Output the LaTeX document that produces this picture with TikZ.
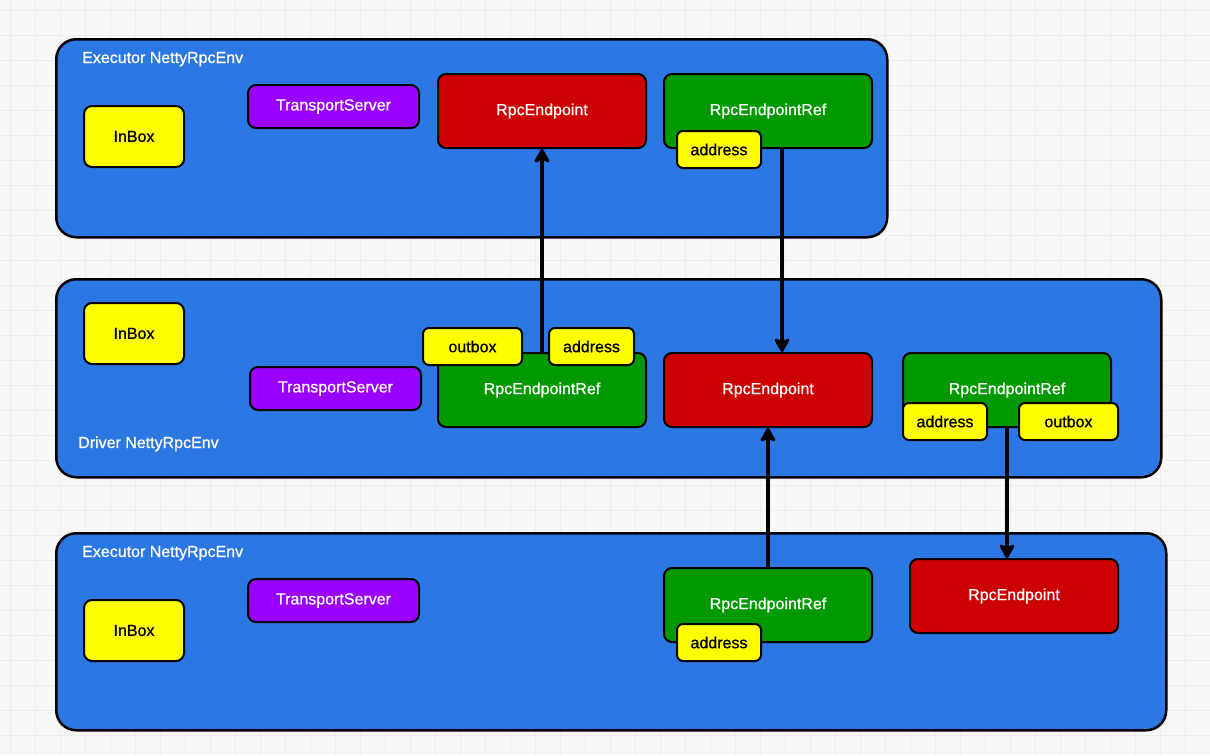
\documentclass[tikz,border=0pt]{standalone}
\usepackage{fontspec}
\setmainfont{Liberation Sans}[FakeBold=0.8]
\usepackage{xcolor}
\usetikzlibrary{arrows.meta,positioning}

\definecolor{envblue}{HTML}{2B78E4}
\definecolor{refgreen}{HTML}{009900}
\definecolor{eptred}{HTML}{CC0000}
\definecolor{srvpurple}{HTML}{9900FF}
\definecolor{tagyellow}{HTML}{FFFF00}
\definecolor{paper}{HTML}{F8F8F8}
\definecolor{gridgray}{HTML}{ECECEC}

\begin{document}
\begin{tikzpicture}[
  x=1pt, y=-1pt,
  every node/.style={font=\fontsize{16}{19}\selectfont, inner sep=0pt},
  env/.style={draw, line width=2.5pt, rounded corners=20pt, fill=envblue,
              anchor=north west},
  envlabel/.style={text=white, anchor=base west},
  box/.style={draw, line width=2pt, rounded corners=8pt, anchor=north west,
              align=center},
  inbox/.style={box, fill=tagyellow, minimum width=100pt, minimum height=61pt},
  server/.style={box, fill=srvpurple, text=white, minimum width=171pt,
                 minimum height=43pt},
  endpoint/.style={box, fill=eptred, text=white, minimum width=208pt,
                   minimum height=74pt},
  ref/.style={box, fill=refgreen, text=white, minimum width=208pt,
              minimum height=74pt},
  tag/.style={box, fill=tagyellow, rounded corners=6pt, minimum height=37pt},
  arrow/.style={-{Stealth[length=17pt,width=19pt,inset=5pt,round]},
                line width=4pt}
]
\useasboundingbox (0,0) rectangle (1210,755);
\fill[paper] (0,0) rectangle (1210,755);
\foreach \g in {0,...,48}
  \draw[gridgray, line width=1pt] ({10+25*\g},0) -- ({10+25*\g},755);
\foreach \g in {0,...,29}
  \draw[gridgray, line width=1pt] (0,{10+25*\g}) -- (1210,{10+25*\g});

% executor (top)
\node[env, minimum width=831pt, minimum height=198pt] (topenv) at (55,38) {};
\node[envlabel] (toplbl) at (82,63) {Executor NettyRpcEnv};
\node[inbox] (tin) at (83,105) {InBox};
\node[server] (tsrv) at (247,84) {TransportServer};
\node[endpoint] (tend) at (437,73) {RpcEndpoint};
\node[ref] (tref) at (663,73) {RpcEndpointRef};
\node[tag, minimum width=84pt] (taddr) at (676,130) {address};

% driver
\node[env, minimum width=1105pt, minimum height=198pt] (drvenv) at (55,278) {};
\node[envlabel] (drvlbl) at (78,448) {Driver NettyRpcEnv};
\node[inbox] (min) at (83,302) {InBox};
\node[server] (msrv) at (249,366) {TransportServer};
\node[ref] (mref) at (437,352) {RpcEndpointRef};
\node[tag, minimum width=99pt] (mout) at (422,327) {outbox};
\node[tag, minimum width=85pt] (maddr) at (548,327) {address};
\node[endpoint] (mend) at (663,352) {RpcEndpoint};
\node[ref] (mref2) at (902,352) {RpcEndpointRef};
\node[tag, minimum width=84pt] (maddr2) at (902,402) {address};
\node[tag, minimum width=99pt] (mout2) at (1018,402) {outbox};

% executor (bottom)
\node[env, minimum width=1110pt, minimum height=197pt] (benv) at (55,532) {};
\node[envlabel] (blbl) at (82,557) {Executor NettyRpcEnv};
\node[inbox] (bin) at (83,599) {InBox};
\node[server] (bsrv) at (247,578) {TransportServer};
\node[ref] (bref) at (663,567) {RpcEndpointRef};
\node[tag, minimum width=84pt] (baddr) at (676,623) {address};
\node[endpoint] (bend) at (909,558) {RpcEndpoint};

\draw[arrow] (mref.north) -- (tend.south);
\draw[arrow] ([xshift=14pt]tref.south) -- ([xshift=14pt]mend.north);
\draw[arrow] (bref.north) -- (mend.south);
\draw[arrow] (mref2.south) -- (mref2.south |- bend.north);
\end{tikzpicture}
\end{document}
